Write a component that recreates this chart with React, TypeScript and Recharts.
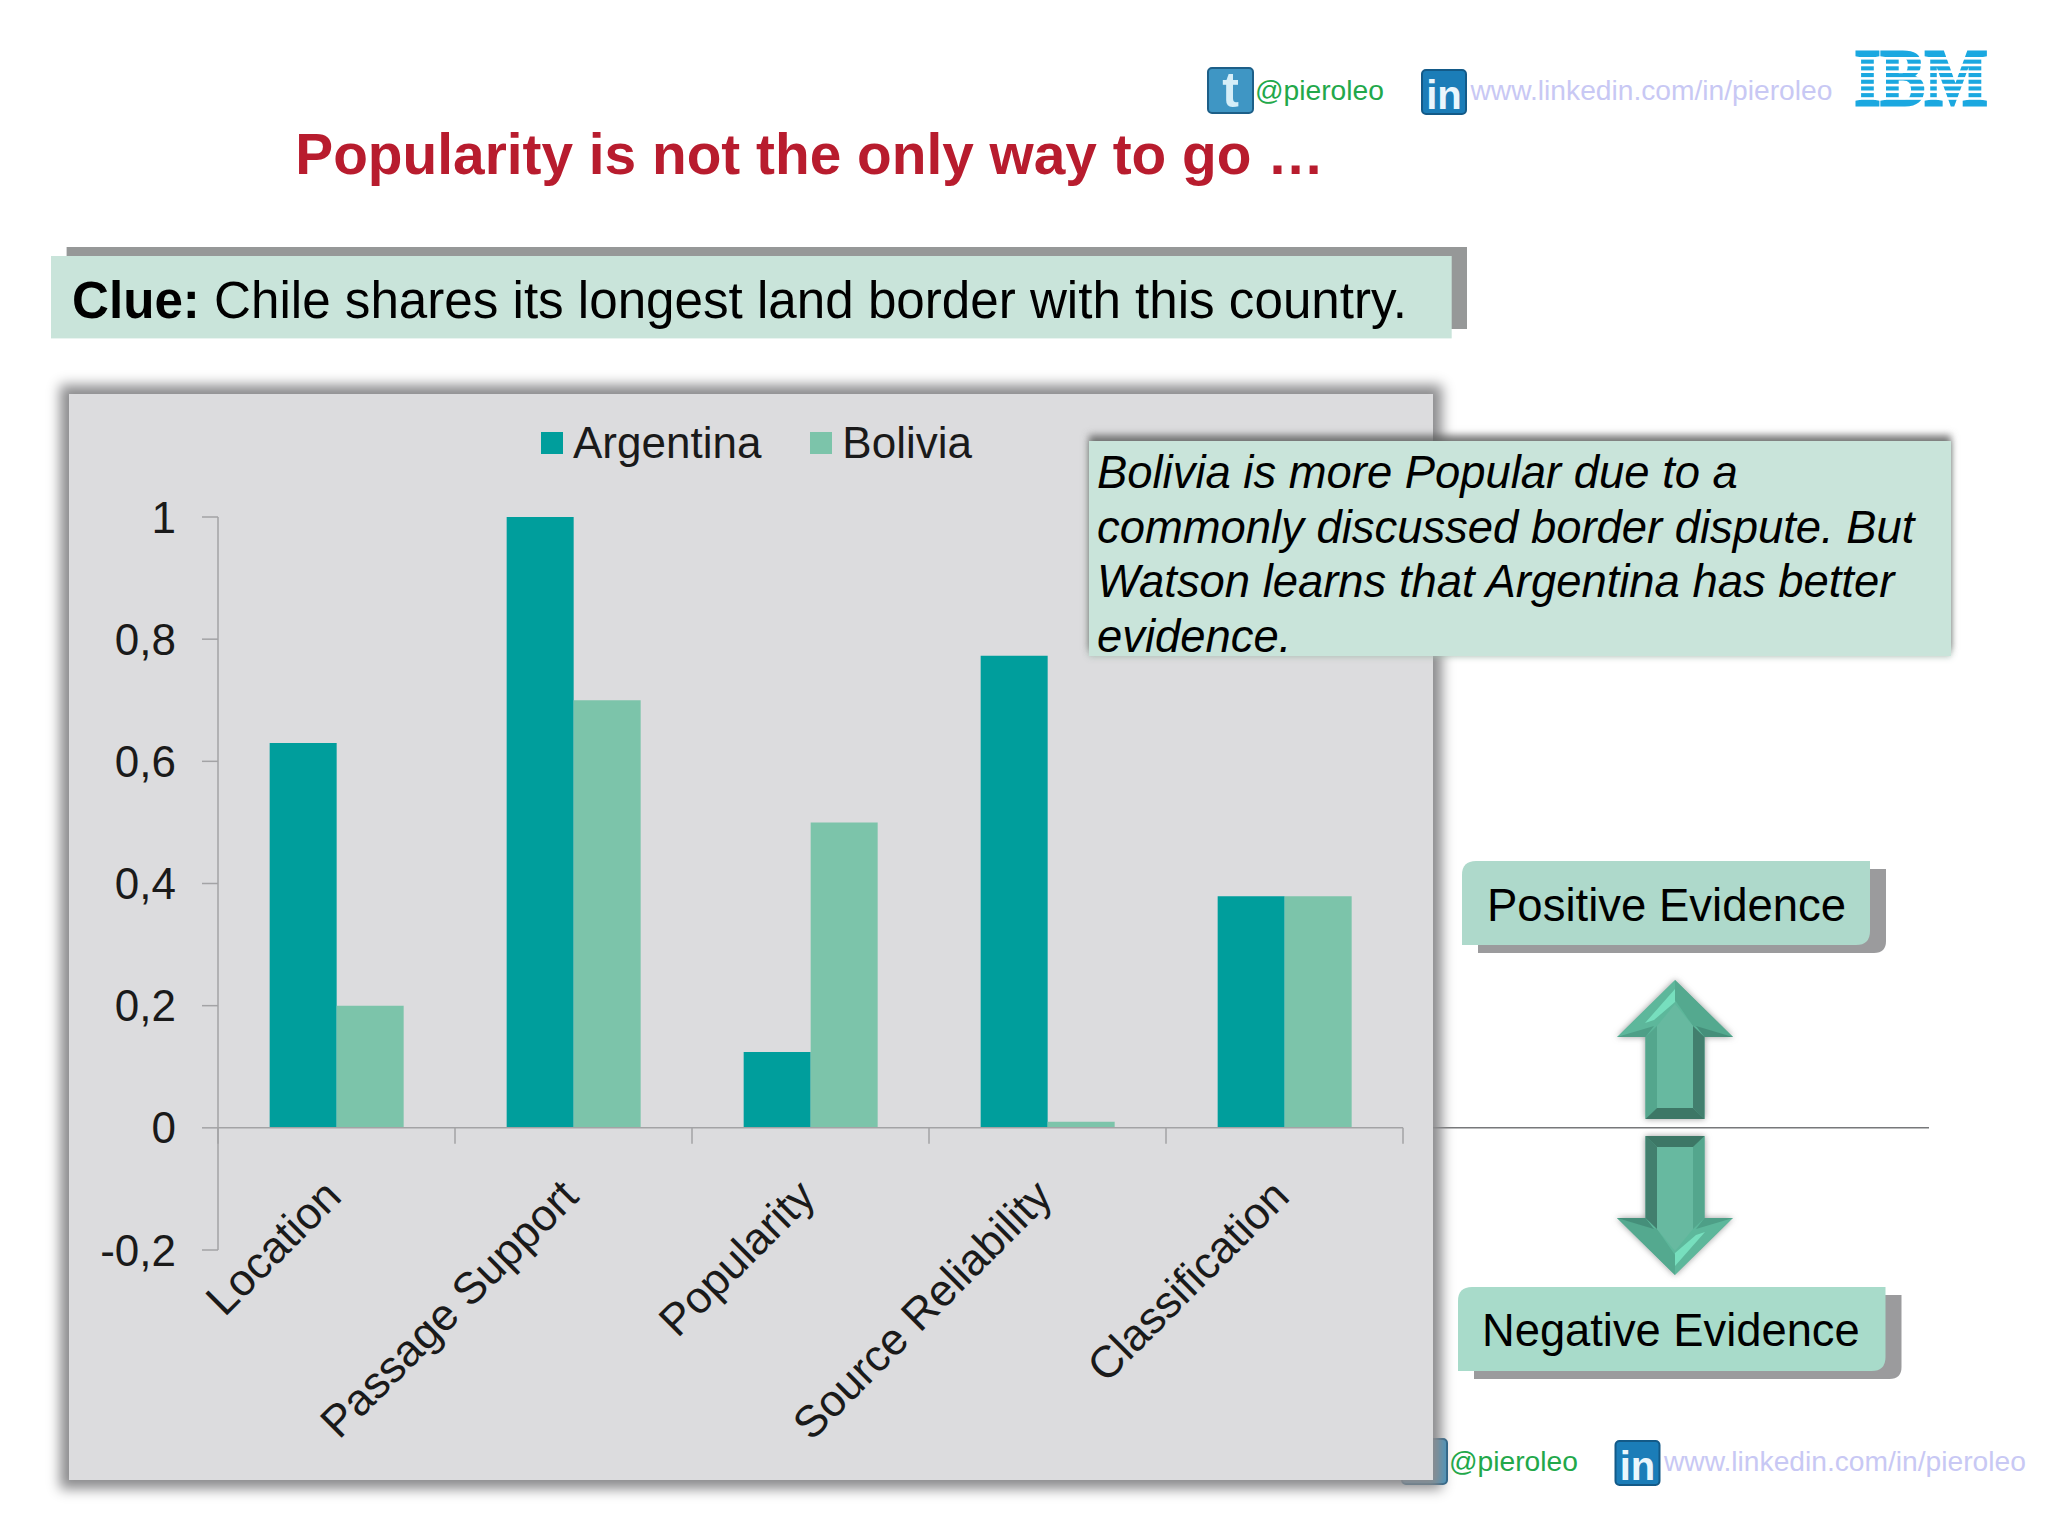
import React from "react";
import { BarChart, Bar, XAxis, YAxis, ReferenceLine, Legend } from "recharts";

const categories = ["Location", "Passage Support", "Popularity", "Source Reliability", "Classification"];
const argentina = [0.63, 1.0, 0.124, 0.773, 0.379];
const bolivia = [0.2, 0.7, 0.5, 0.01, 0.379];
const yTicks = [-0.2, 0, 0.2, 0.4, 0.6, 0.8, 1];
const calloutLines = [
  "Bolivia is more Popular due to a",
  "commonly discussed border dispute. But",
  "Watson learns that Argentina has better",
  "evidence.",
];
const data = categories.map((name, i) => ({ name, Argentina: argentina[i], Bolivia: bolivia[i] }));

const FONT = "'Liberation Sans', Arial, sans-serif";
const AXIS = "#a3a3a5";
const TEAL = "#009e9c";
const MINT = "#7cc4aa";
const PLOT_TOP = 517;
const PLOT_BOTTOM = 1250;
const PLOT_LEFT = 218;
const PLOT_RIGHT = 1403;
const BAND = (PLOT_RIGHT - PLOT_LEFT) / categories.length;
const ZERO_Y = PLOT_BOTTOM - ((PLOT_BOTTOM - PLOT_TOP) * 0.2) / 1.2;

const CategoryTick = (props: any) => {
  const { x, payload, index } = props;
  const left = x - BAND / 2;
  const right = x + BAND / 2;
  const tx = x + 7;
  const ty = ZERO_Y + 71;
  return (
    <g>
      {index === 0 ? <line x1={left} x2={left} y1={ZERO_Y} y2={ZERO_Y + 16} stroke={AXIS} strokeWidth={1.5} /> : null}
      <line x1={right} x2={right} y1={ZERO_Y} y2={ZERO_Y + 16} stroke={AXIS} strokeWidth={1.5} />
      <text x={tx} y={ty} textAnchor="end" fontSize={44.5} fontFamily={FONT} fill="#1a1a1a" transform={`rotate(-45 ${tx} ${ty})`}>
        {payload.value}
      </text>
    </g>
  );
};

const LegendContent = (props: any) => (
  <div style={{ display: "flex", alignItems: "center", fontFamily: FONT, fontSize: 44, color: "#1a1a1a", lineHeight: "50px" }}>
    {(props.payload || []).map((p: any, i: number) => (
      <div key={p.value} style={{ display: "flex", alignItems: "center", marginRight: i === 0 ? 49 : 0 }}>
        <div style={{ width: 22, height: 22, background: p.color, marginRight: 10 }} />
        <span>{p.value}</span>
      </div>
    ))}
  </div>
);

const Arrow = ({ cx, tip, base, end }: { cx: number; tip: number; base: number; end: number }) => {
  // the down arrow is the up arrow turned by 180 degrees
  const s = tip < end ? 1 : -1;
  const hw = 58;
  const sw = 29.5;
  const iw = 18;
  const hb = Math.abs(base - tip);
  const len = Math.abs(end - tip);
  const pts = (a: number[][]) => a.map(([x, d]) => `${cx + s * x},${tip + s * d}`).join(" ");
  return (
    <g style={{ filter: "drop-shadow(0 0 3px rgba(90,90,90,0.6))" }}>
      <polygon points={pts([[0, 0], [hw, hb], [sw, hb], [sw, len], [-sw, len], [-sw, hb], [-hw, hb]])} fill="#5db79b" />
      <polygon points={pts([[0, 0], [hw, hb], [iw, hb - 11], [0, 20]])} fill="#54a98f" />
      <polygon points={pts([[-hw, hb], [-iw - 3, hb - 11], [-sw, hb]])} fill="#4e9f87" />
      <polygon points={pts([[hw, hb], [iw + 3, hb - 11], [sw, hb]])} fill="#458f7a" />
      <polygon points={pts([[0, 9], [0, 22], [-21, 40], [-30, 43]])} fill="#77dfbe" />
      <polygon points={pts([[-sw, hb], [-iw, hb - 11], [-iw, len - 11], [-sw, len]])} fill="#54a68d" />
      <polygon points={pts([[sw, hb], [iw, hb - 11], [iw, len - 11], [sw, len]])} fill="#427f6e" />
      <polygon points={pts([[-sw, len], [-iw, len - 11], [iw, len - 11], [sw, len]])} fill="#3d7766" />
      <polygon points={pts([[-iw, hb - 11], [0, 24], [iw, hb - 11], [iw, len - 11], [-iw, len - 11]])} fill="#67b9a0" />
    </g>
  );
};

const IconTwitter = ({ x, y }: { x: number; y: number }) => (
  <g>
    <rect x={x} y={y} width={45} height={45} rx={4} fill="#3f96c4" stroke="#1d5f88" strokeWidth={2} />
    <text x={x + 22.5} y={y + 39} textAnchor="middle" fontSize={50} fontWeight="bold" fontFamily={FONT} fill="#d5eef8">t</text>
  </g>
);
const IconLinkedIn = ({ x, y }: { x: number; y: number }) => (
  <g>
    <rect x={x} y={y} width={44} height={44} rx={4} fill="#1b7db8" stroke="#135a88" strokeWidth={2} />
    <text x={x + 22} y={y + 39} textAnchor="middle" fontSize={40} fontWeight="bold" fontFamily={FONT} fill="#eaf6fc">in</text>
  </g>
);
const Contact = ({ tw, ti, tx, lx, ly, ux, by }: any) => (
  <g fontFamily={FONT} fontSize={28.2}>
    <IconTwitter x={tw} y={ti} />
    <text x={tx} y={by} fill="#22a84a">@pieroleo</text>
    <IconLinkedIn x={lx} y={ly} />
    <text x={ux} y={by} fill="#c8c8f4">www.linkedin.com/in/pieroleo</text>
  </g>
);

export default function App() {
  return (
    <div style={{ position: "absolute", left: 0, top: 0, width: 2048, height: 1536, background: "#fff", overflow: "hidden" }}>
      <svg width={2048} height={1536} style={{ position: "absolute", left: 0, top: 0 }}>
        <Contact tw={1208} ti={68} tx={1255} lx={1422} ly={70} ux={1470.5} by={100} />
        <Contact tw={1402} ti={1439} tx={1449} lx={1615.5} ly={1441} ux={1664} by={1470.5} />
        {/* IBM logo */}
        <text x={1854.5} y={104.5} fontFamily="'Liberation Serif', serif" fontWeight="bold" fontSize={81} fill="#1ba8e0" stroke="#1ba8e0" strokeWidth={3} textLength={133} lengthAdjust="spacingAndGlyphs">IBM</text>
        {[57, 63.7, 70.4, 77.1, 83.8, 90.5, 97.2].map((y) => (
          <rect key={y} x={1850} y={y} width={145} height={2.6} fill="#fff" />
        ))}
        <text x={295.3} y={174} fontFamily={FONT} fontWeight="bold" fontSize={56.8} fill="#b81c2e">Popularity is not the only way to go …</text>

        <rect x={66.6} y={247} width={1400.4} height={82} fill="#969898" />
        <rect x={51} y={256} width={1400.7} height={82.4} fill="#c9e4da" />
        <text x={72} y={318} fontFamily={FONT} fontSize={51.15} fill="#000">
          <tspan fontWeight="bold">Clue:</tspan> Chile shares its longest land border with this country.
        </text>

        <line x1={1433} x2={1929} y1={1127.7} y2={1127.7} stroke="#77787a" strokeWidth={1.5} />

        <path d="M1478 869 H1886 V941 Q1886 953 1874 953 H1478 Z" fill="#9b9b9d" />
        <path d="M1462 875 Q1462 861 1476 861 H1870 V931 Q1870 945 1856 945 H1462 Z" fill="#aed9cb" />
        <text x={1487} y={921} fontFamily={FONT} fontSize={45.5} fill="#000">Positive Evidence</text>

        <path d="M1474 1295 H1901.5 V1367 Q1901.5 1379 1889.5 1379 H1474 Z" fill="#9b9b9d" />
        <path d="M1458 1301 Q1458 1287 1472 1287 H1885.5 V1357 Q1885.5 1371 1871.5 1371 H1458 Z" fill="#a8dbca" />
        <text x={1482} y={1346} fontFamily={FONT} fontSize={45.3} fill="#000">Negative Evidence</text>

        <Arrow cx={1675} tip={980} base={1037} end={1119} />
        <Arrow cx={1675} tip={1275} base={1218} end={1136} />
      </svg>

      <div
        style={{
          position: "absolute",
          left: 69,
          top: 393.5,
          width: 1364,
          height: 1086.5,
          background: "#dcdcde",
          boxShadow: "0 0 12px 9px #8c8c8e",
        }}
      />

      <div style={{ position: "absolute", left: 0, top: 0 }}>
        <BarChart
          width={2048}
          height={1536}
          data={data}
          barCategoryGap="21.8%"
          barGap={0}
          margin={{ top: PLOT_TOP, left: PLOT_LEFT - 160, right: 2048 - PLOT_RIGHT, bottom: 1536 - PLOT_BOTTOM - 30 }}
        >
          <Legend
            layout="horizontal"
            verticalAlign="middle"
            align="center"
            content={<LegendContent />}
            wrapperStyle={{ position: "absolute", left: 541, top: 418, width: "auto" }}
          />
          <XAxis dataKey="name" height={30} axisLine={false} tickLine={false} interval={0} tick={<CategoryTick />} />
          <YAxis
            width={160}
            domain={[-0.2, 1]}
            ticks={yTicks}
            interval={0}
            allowDataOverflow
            stroke={AXIS}
            strokeWidth={1.5}
            tickSize={16}
            tickMargin={26}
            tick={{ fontSize: 44, fontFamily: FONT, fill: "#1a1a1a" }}
            tickFormatter={(v: number) => String(v).replace(".", ",")}
          />
          <ReferenceLine y={0} stroke={AXIS} strokeWidth={1.5} />
          <Bar dataKey="Argentina" fill={TEAL} isAnimationActive={false} />
          <Bar dataKey="Bolivia" fill={MINT} isAnimationActive={false} />
        </BarChart>
      </div>

      <div
        style={{
          position: "absolute",
          left: 1089,
          top: 441,
          width: 862,
          height: 215,
          background: "#c9e4da",
          boxShadow: "0 -6px 7px rgba(85,85,85,0.75), 0 1px 6px rgba(170,190,180,0.8)",
        }}
      />
      <svg width={2048} height={1536} style={{ position: "absolute", left: 0, top: 0, pointerEvents: "none" }}>
        {calloutLines.map((line, i) => (
          <text key={line} x={1097} y={488 + i * 54.5} fontFamily={FONT} fontStyle="italic" fontSize={45.4} fill="#000">{line}</text>
        ))}
      </svg>
    </div>
  );
}
